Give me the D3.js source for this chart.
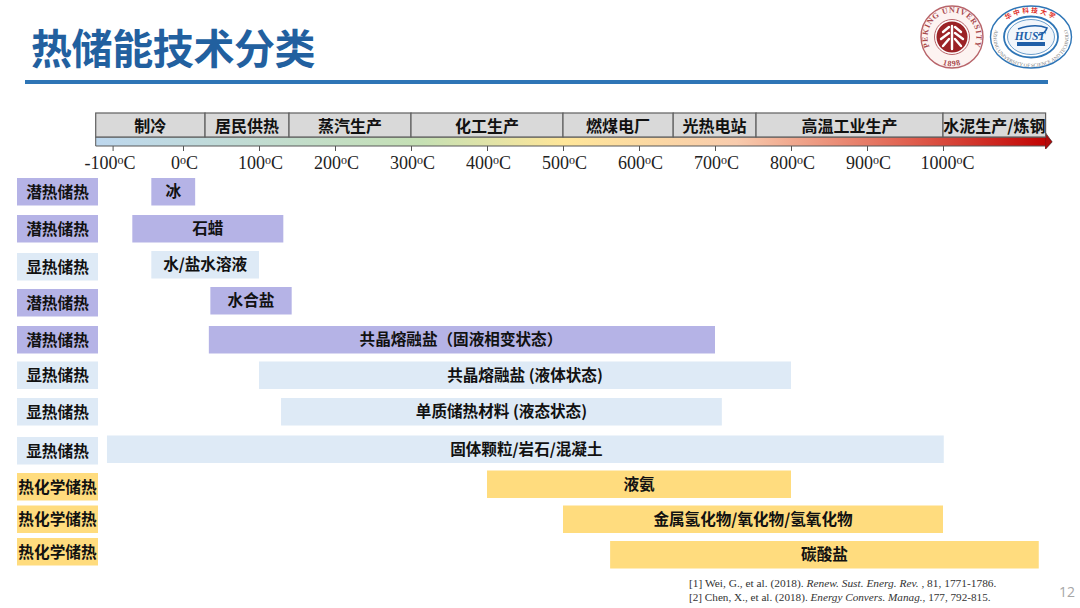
<!DOCTYPE html>
<html lang="zh"><head><meta charset="utf-8">
<style>html,body{margin:0;padding:0;background:#fff}svg{display:block}text{font-family:"Noto Sans CJK SC","Noto Sans",sans-serif}</style>
<script src="https://cdn.jsdelivr.net/npm/d3@7/dist/d3.min.js"></script></head>
<body><svg id="c" width="1080" height="608"></svg>
<script>
const titleText = "热储能技术分类";
const industryNames = ["制冷","居民供热","蒸汽生产","化工生产","燃煤电厂","光热电站","高温工业生产","水泥生产/炼钢"];
const industryEdges = [-124,29,139.5,300,500,645,754,1000,1135];
const tickValues = [-100,0,100,200,300,400,500,600,700,800,900,1000];
const storageTypes = ["潜热储热","潜热储热","显热储热","潜热储热","潜热储热","显热储热","显热储热","显热储热","热化学储热","热化学储热","热化学储热"];
const materials = ["冰","石蜡","水/盐水溶液","水合盐","共晶熔融盐（固液相变状态）","共晶熔融盐 (液体状态)","单质储热材料 (液态状态)","固体颗粒/岩石/混凝土","液氨","金属氢化物/氧化物/氢氧化物","碳酸盐"];
const tempLow  = [-45,-72,-45,36,34,100,129,-108,400,500,562];
const tempHigh = [16,132,100,143,700,800,709,1001,800,1000,1126];
const refs = [
  [["[1] Wei, G., et al. (2018). ",0],["Renew. Sust. Energ. Rev.",1],[" , 81, 1771-1786.",0]],
  [["[2] Chen, X., et al. (2018). ",0],["Energy Convers. Manag.",1],[", 177, 792-815.",0]]
];

const labelTops = [178,215,253,289,326,361.5,398,437,473,505.5,538];
const barTops   = [178,215,251,287,326,361.5,398,435.5,470.5,505.5,541];
const labelShift = [0,0,0,0,-1,0,0,1,0,0,0];
const rowH = 27.5;

const svg = d3.select("#c");
const typeColor = d3.scaleOrdinal(["潜热储热","显热储热","热化学储热"],["#b5b3e6","#deeaf6","#ffdc7e"]);
const x = d3.scaleLinear().domain([-100,0,1000]).range([112.6,183,943]);
const rows = d3.range(materials.length);
const SERIF = '"Liberation Serif","Times New Roman",serif';
const CJK = '"Noto Sans CJK SC",sans-serif';

// title
svg.append("text").attr("x",31).attr("y",64).attr("font-size",41).attr("font-weight",700)
   .attr("fill","#22609f").attr("style",`font-family:${CJK};letter-spacing:-0.4px`).text(titleText);
svg.append("rect").attr("x",25).attr("y",80).attr("width",1023).attr("height",4).attr("fill","#2e75b6");

// gradient
const defs = svg.append("defs");
const grad = defs.append("linearGradient").attr("id","g");
[[0,"#bdd7ee"],[0.34,"#c5e0b4"],[0.49,"#ffe699"],[0.67,"#f8cbad"],[0.85,"#e0604f"],[1,"#c00000"]]
  .forEach(s=>grad.append("stop").attr("offset",s[0]).attr("stop-color",s[1]));
const L = x(industryEdges[0]), R = x(industryEdges[industryEdges.length-1]);
const bt = 137, bb = 146;
svg.append("path").attr("fill","url(#g)").attr("stroke","#595959").attr("stroke-width",1)
   .attr("d",d3.line()([[L,bt],[R,bt],[R,bt-4],[R+6.5,(bt+bb)/2+0.5],[R,bb+3],[R,bb],[L,bb]])+"Z");
svg.append("path").attr("fill","#b50b0b").attr("stroke","#8f1010").attr("stroke-width",0.8)
   .attr("d",d3.line()([[R,bt-2],[R+6,(bt+bb)/2],[R,bb+2.5]])+"Z");

// industry boxes
const ind = svg.append("g").selectAll("g").data(industryNames).join("g");
ind.append("rect").attr("x",(d,i)=>x(industryEdges[i])).attr("y",113)
   .attr("width",(d,i)=>x(industryEdges[i+1])-x(industryEdges[i])).attr("height",bt-113)
   .attr("fill","#d9d9d9").attr("stroke","#5f5f5f").attr("stroke-width",1.2);
ind.append("text").attr("x",(d,i)=>(x(industryEdges[i])+x(industryEdges[i+1]))/2).attr("y",132)
   .attr("text-anchor","middle").attr("font-size",16).attr("font-weight",700).attr("fill","#111").text(d=>d);

// axis
const axisG = svg.append("g").attr("transform",`translate(0,${bb})`)
  .call(d3.axisBottom(x).tickValues(tickValues).tickSize(5).tickSizeOuter(0).tickFormat(d=>d));
axisG.select(".domain").remove();
axisG.selectAll(".tick line").attr("stroke","#555");
axisG.selectAll(".tick text").each(function(d){
  const t = d3.select(this).text("").attr("y",0).attr("dy",0)
    .attr("transform",`translate(${d<0?-3:d===1000?4:1},23)`).attr("fill","#222")
    .attr("style",`font-family:${SERIF};font-size:18px`);
  t.append("tspan").text(d);
  t.append("tspan").attr("dy",-5).attr("font-size",12).text("o");
  t.append("tspan").attr("dy",5).text("C");
});

// left labels
const lab = svg.append("g").selectAll("g").data(rows).join("g");
lab.append("rect").attr("x",17).attr("y",i=>labelTops[i]).attr("width",81).attr("height",rowH)
   .attr("fill",i=>typeColor(storageTypes[i]));
lab.append("text").attr("x",57.5).attr("y",i=>labelTops[i]+19.5).attr("text-anchor","middle")
   .attr("font-weight",700).attr("fill","#111").attr("font-size",15.7)
   .text(i=>storageTypes[i]);

// bars
const bar = svg.append("g").selectAll("g").data(rows).join("g");
bar.append("rect").attr("x",i=>x(tempLow[i])).attr("y",i=>barTops[i])
   .attr("width",i=>x(tempHigh[i])-x(tempLow[i])).attr("height",rowH)
   .attr("fill",i=>typeColor(storageTypes[i]));
bar.append("text").attr("x",i=>(x(tempLow[i])+x(tempHigh[i]))/2+labelShift[i]).attr("y",i=>barTops[i]+19)
   .attr("text-anchor","middle").attr("font-size",15.6).attr("font-weight",700).attr("fill","#111").text(i=>materials[i]);

// references
const rf = svg.append("g").selectAll("text").data(refs).join("text").attr("x",689)
   .attr("y",(d,i)=>587+i*14).attr("fill","#333")
   .attr("style",(d,i)=>`font-family:${SERIF};font-size:${i?11.2:11.4}px`);
rf.selectAll("tspan").data(d=>d).join("tspan").attr("font-style",d=>d[1]?"italic":"normal").text(d=>d[0]);
svg.append("text").attr("x",1059).attr("y",597).attr("font-size",14).attr("fill","#a6a6a6")
   .attr("style",'font-family:"Open Sans",sans-serif').text("12");

// PKU emblem
const pku = svg.append("g").attr("transform","translate(952,37)");
const red = "#9b2226";
pku.append("circle").attr("r",31).attr("fill","#fdf3f1").attr("stroke","#b8646a").attr("stroke-width",1.4);
pku.append("circle").attr("r",17.5).attr("fill","#fff").attr("stroke","#b8646a").attr("stroke-width",1);
pku.append("circle").attr("r",15.5).attr("fill",red);
defs.append("path").attr("id","pkuTop").attr("d","M-20,14 A24.4,24.4 0 1 1 20,14");
defs.append("path").attr("id","pkuBot").attr("d","M-15,25 A29,29 0 0 0 15,25");
pku.append("text").attr("fill","#a8484d").attr("style",`font-family:${SERIF};font-size:8px;letter-spacing:0.75px;font-weight:700`)
   .append("textPath").attr("href","#pkuTop").attr("startOffset","50%").attr("text-anchor","middle").text("PEKING UNIVERSITY");
pku.append("text").attr("fill","#a8484d").attr("style",`font-family:${SERIF};font-size:8px;letter-spacing:0.8px;font-weight:700`)
   .append("textPath").attr("href","#pkuBot").attr("startOffset","50%").attr("text-anchor","middle").text("1898");
pku.append("path").attr("fill","none").attr("stroke","#fff").attr("stroke-width",2.4).attr("stroke-linecap","round")
   .attr("d","M0,-11V12 M-3,-10L-9,-5 M3,-10L9,-5 M-3,-4L-11,2 M3,-4L11,2 M-3,2L-9,9 M3,2L9,9");

// HUST emblem
const hu = svg.append("g").attr("transform","translate(1031,37)");
const blue = "#2e75b6";
hu.append("ellipse").attr("rx",40.5).attr("ry",31).attr("fill","#fff").attr("stroke",blue).attr("stroke-width",1.4);
hu.append("ellipse").attr("rx",27).attr("ry",20.5).attr("fill","#fff").attr("stroke",blue).attr("stroke-width",1.8);
hu.append("ellipse").attr("rx",23.5).attr("ry",17.5).attr("fill","#f2f6fb").attr("stroke",blue).attr("stroke-width",.7);
defs.append("path").attr("id","huTop").attr("d","M-30,-11 A34,25 0 0 1 30,-11");
defs.append("path").attr("id","huBot").attr("d","M-35.5,-8 A37.5,28.8 0 1 0 35.5,-8");
hu.append("text").attr("fill","#e0302a").attr("style",`font-family:${CJK};font-size:6.6px;font-weight:700;letter-spacing:2px`)
   .append("textPath").attr("href","#huTop").attr("startOffset","50%").attr("text-anchor","middle").text("华中科技大学");
hu.append("text").attr("fill","#777").attr("style",`font-family:${SERIF};font-size:5px`)
   .append("textPath").attr("href","#huBot").attr("startOffset","50%").attr("text-anchor","middle").text("HUAZHONG UNIVERSITY OF SCIENCE AND TECHNOLOGY");
hu.append("text").attr("x",-1).attr("y",3).attr("text-anchor","middle").attr("fill","#1f5fa8")
   .attr("style",`font-family:${SERIF};font-size:11.5px;font-weight:700;font-style:italic`).text("HUST");
hu.append("path").attr("fill","none").attr("stroke","#1f5fa8").attr("stroke-width",1.6)
   .attr("d","M-13,-8 Q4,-14 16,-9 Q14,-3 7,-2");
hu.append("rect").attr("x",-14).attr("y",5).attr("width",28).attr("height",4).attr("fill","#1f5fa8");
</script></body></html>
